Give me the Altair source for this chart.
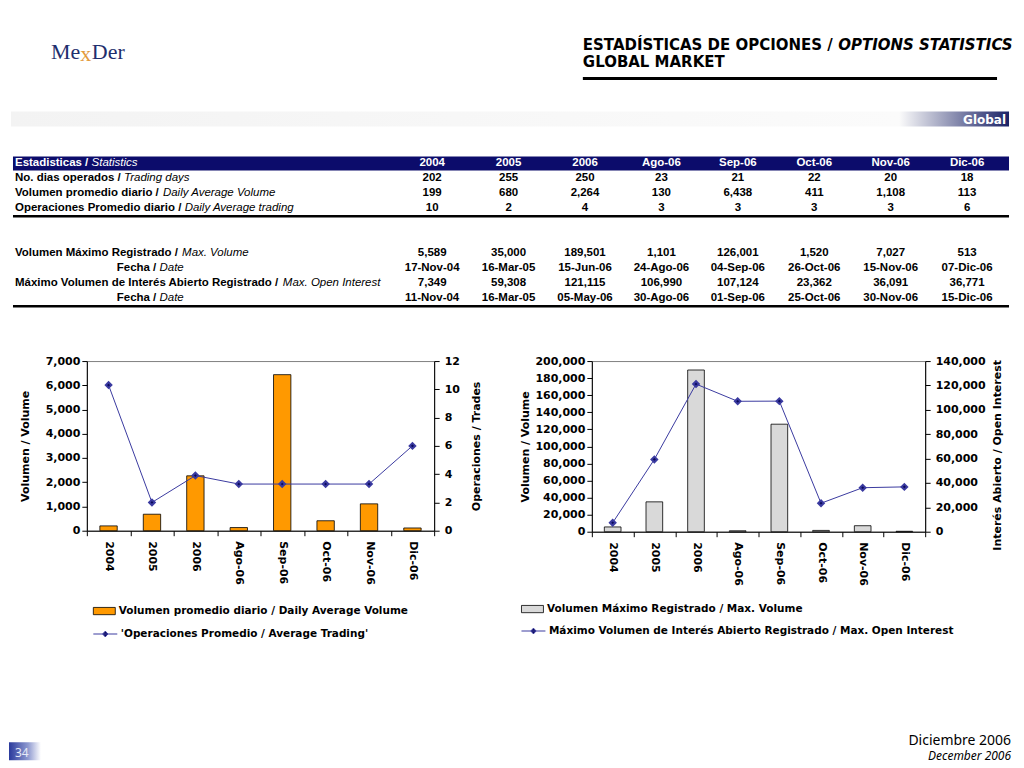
import altair as alt
import pandas as pd

# ---------------- data ----------------
categories = ["2004", "2005", "2006", "Ago-06", "Sep-06", "Oct-06", "Nov-06", "Dic-06"]
trading_days = [202, 255, 250, 23, 21, 22, 20, 18]
daily_avg_volume = [199, 680, 2264, 130, 6438, 411, 1108, 113]
daily_avg_trading = [10, 2, 4, 3, 3, 3, 3, 6]
avg_trading_plotted = [10.3, 2.0, 3.9, 3.3, 3.3, 3.3, 3.3, 6.0]
max_volume = [5589, 35000, 189501, 1101, 126001, 1520, 7027, 513]
max_volume_date = ["17-Nov-04", "16-Mar-05", "15-Jun-06", "24-Ago-06", "04-Sep-06",
                   "26-Oct-06", "15-Nov-06", "07-Dic-06"]
max_open_interest = [7349, 59308, 121115, 106990, 107124, 23362, 36091, 36771]
max_oi_date = ["11-Nov-04", "16-Mar-05", "05-May-06", "30-Ago-06", "01-Sep-06",
               "25-Oct-06", "30-Nov-06", "15-Dic-06"]

block1_labels = [("No. dias operados /", "Trading days"),
                 ("Volumen promedio diario /", "Daily Average Volume"),
                 ("Operaciones Promedio diario /", "Daily Average trading")]
block2_labels = [("Volumen Máximo Registrado /", "Max. Volume"),
                 ("Fecha /", "Date"),
                 ("Máximo Volumen de Interés Abierto Registrado /", "Max. Open Interest"),
                 ("Fecha /", "Date")]

leg_left_bar = "Volumen promedio diario / Daily Average Volume"
leg_left_line = "'Operaciones Promedio / Average Trading'"
leg_right_bar = "Volumen Máximo Registrado / Max. Volume"
leg_right_line = "Máximo Volumen de Interés Abierto Registrado / Max. Open Interest"

# ---------------- styles ----------------
NAVY_BAR = "#0c0c6b"
LINE_COL = "#3a3aa0"
DOT_COL = "#0a0a5a"
ORANGE = "#ff9900"
GRAY_BAR = "#d9d9d9"
AX_FONT = "DejaVu Sans"
TB_FONT = "Liberation Sans"
TB_SIZE = 11.5

# Arial/Liberation Sans Bold advance widths (1/1000 em) for placing the italic part
_W = {" ": 278, ".": 278, "/": 278, "A": 722, "D": 722, "E": 667, "F": 611, "I": 278,
      "M": 833, "N": 722, "O": 778, "P": 667, "R": 722, "V": 667, "a": 556, "b": 611,
      "c": 556, "d": 611, "e": 556, "g": 611, "h": 611, "i": 278, "l": 278, "m": 889,
      "n": 611, "o": 611, "p": 611, "r": 389, "s": 556, "t": 333, "u": 611, "x": 556,
      "á": 556, "é": 556}


def bold_width(s, size=TB_SIZE):
    return sum(_W.get(ch, 600) for ch in s) * size / 1000.0


one = pd.DataFrame({"k": [0]})


def txt(x, y, s, size=TB_SIZE, weight="bold", style="normal", color="black",
        align="left", font=TB_FONT):
    return alt.Chart(one).mark_text(
        text=s, align=align, baseline="middle", font=font, fontSize=size,
        fontWeight=weight, fontStyle=style, color=color
    ).encode(x=alt.value(x), y=alt.value(y))


def rect(x1, x2, y1, y2, fill):
    return alt.Chart(one).mark_rect(fill=fill).encode(
        x=alt.value(x1), x2=alt.value(x2), y=alt.value(y1), y2=alt.value(y2))


def hrule(x1, x2, y, w, color="black"):
    return alt.Chart(one).mark_rule(strokeWidth=w, color=color).encode(
        x=alt.value(x1), x2=alt.value(x2), y=alt.value(y))


# ---------------- panel A: header + table ----------------
# panel origin sits at page (86, 8), aligned with the left chart's plot origin
OX, OY = 86, 8
P = lambda x: x - OX
Q = lambda y: y - OY

layersA = []
# logo
layersA.append(txt(P(50), Q(50), "Me", size=22, weight="normal", color="#1f2f6e", font="Liberation Serif"))
layersA.append(txt(P(79.5), Q(52), "x", size=22, weight="normal", color="#e39a3c", font="Liberation Serif"))
layersA.append(txt(P(91), Q(50), "Der", size=22, weight="normal", color="#1f2f6e", font="Liberation Serif"))
# title
layersA.append(txt(P(583), Q(43), "ESTADÍSTICAS DE OPCIONES /", size=15, font=AX_FONT))
layersA.append(txt(P(839), Q(43), "OPTIONS STATISTICS", size=15, style="italic", font=AX_FONT))
layersA.append(txt(P(583), Q(60), "GLOBAL MARKET", size=15, font=AX_FONT))
layersA.append(hrule(P(583), P(998), Q(77), 3))
# Global band
band_grad = alt.LinearGradient(
    gradient="linear", x1=0, x2=1, y1=0, y2=0,
    stops=[alt.GradientStop(offset=0, color="#f3f3f3"),
           alt.GradientStop(offset=0.89, color="#fbfbfb"),
           alt.GradientStop(offset=1, color="#1a2266")])
layersA.append(rect(P(10), P(1010), Q(110), Q(125), band_grad))
layersA.append(txt(P(1007), Q(118), "Global", size=12, color="white", align="right", font=AX_FONT))
# table header bar
layersA.append(rect(P(12), P(1010), Q(155), Q(169), NAVY_BAR))
layersA.append(txt(P(14), Q(162), "Estadisticas /", color="white"))
layersA.append(txt(P(14) + bold_width("Estadisticas / "), Q(162), "Statistics", color="white",
                   weight="normal", style="italic"))

# row labels
b1_y = [177, 192, 207]
b1_x = [14, 14, 14]
for (bold, ital), yy, xx in zip(block1_labels, b1_y, b1_x):
    layersA.append(txt(P(xx), Q(yy), bold))
    layersA.append(txt(P(xx) + bold_width(bold + " "), Q(yy), ital, weight="normal", style="italic"))
b2_y = [252, 267, 282, 297]
b2_x = [14, 116, 14, 116]
for (bold, ital), yy, xx in zip(block2_labels, b2_y, b2_x):
    layersA.append(txt(P(xx), Q(yy), bold))
    layersA.append(txt(P(xx) + bold_width(bold + " "), Q(yy), ital, weight="normal", style="italic"))

layersA.append(hrule(P(12), P(1010), Q(215), 2.5))
layersA.append(hrule(P(12), P(1010), Q(305), 2.5))

xcol = alt.X("col:N", sort=categories,
             scale=alt.Scale(type="point", domain=categories, range=[P(432), P(968)], padding=0),
             axis=None)
fmt = lambda v: f"{v:,}"
hdr = pd.DataFrame({"col": categories, "v": categories})
layersA.append(alt.Chart(hdr).mark_text(
    align="center", baseline="middle", font=TB_FONT, fontSize=TB_SIZE, fontWeight="bold",
    color="white").encode(x=xcol, y=alt.value(Q(162)), text="v:N"))

b1_rows = [[fmt(v) for v in trading_days], [fmt(v) for v in daily_avg_volume],
           [fmt(v) for v in daily_avg_trading]]
cells1 = pd.DataFrame([{"col": c, "r": i, "v": v}
                       for i, row in enumerate(b1_rows) for c, v in zip(categories, row)])
layersA.append(alt.Chart(cells1).mark_text(
    align="center", baseline="middle", font=TB_FONT, fontSize=TB_SIZE, fontWeight="bold",
    color="black").encode(
    x=xcol,
    y=alt.Y("r:Q", scale=alt.Scale(domain=[0, 2], range=[Q(b1_y[0]), Q(b1_y[2])]), axis=None),
    text="v:N"))

b2_rows = [[fmt(v) for v in max_volume], max_volume_date,
           [fmt(v) for v in max_open_interest], max_oi_date]
cells2 = pd.DataFrame([{"col": c, "r": i, "v": v}
                       for i, row in enumerate(b2_rows) for c, v in zip(categories, row)])
layersA.append(alt.Chart(cells2).mark_text(
    align="center", baseline="middle", font=TB_FONT, fontSize=TB_SIZE, fontWeight="bold",
    color="black").encode(
    x=xcol,
    y=alt.Y("r:Q", scale=alt.Scale(domain=[0, 3], range=[Q(b2_y[0]), Q(b2_y[3])]), axis=None),
    text="v:N"))

panelA = alt.layer(*layersA).resolve_scale(y="independent").properties(width=930, height=344)

# ---------------- charts ----------------
BAR_SYM = "M-1,-0.33H1V0.33H-1Z"
LINE_SYM = "M-1,0H1M0,-0.24L0.22,0L0,0.24L-0.22,0Z"


def yaxis(orient, values, title, title_padding, label_padding=2, **kw):
    return alt.Axis(orient=orient, values=values, format=",.0f", title=title, grid=False,
                    labelFont=AX_FONT, labelFontSize=11, labelFontWeight="bold", labelColor="black",
                    titleFont=AX_FONT, titleFontSize=11, titleFontWeight="bold", titleColor="black",
                    tickColor="black", tickSize=5, domainColor="black",
                    labelPadding=label_padding, titlePadding=title_padding, **kw)


xaxis = alt.Axis(title=None, labelAngle=90, labelFont=AX_FONT, labelFontSize=11,
                 labelFontWeight="bold", labelColor="black", tickBand="extent", tickSize=5,
                 tickColor="black", domainColor="black", labelPadding=5)


def legend(lx, ly, sym, size, **kw):
    return alt.Legend(orient="none", legendX=lx, legendY=ly, title=None, symbolType=sym,
                      symbolSize=size, labelFont=AX_FONT, labelFontSize=10.5,
                      labelFontWeight="bold", labelColor="black", labelLimit=800, padding=0,
                      labelOffset=3, **kw)


def dual_chart(vol, line_vals, bar_color, bar_leg, line_leg, ldom, lvals, ltitle, lpad,
               rdom, rvals, rtitle, rpad, width, height, legx, legy1, legy2, rtitle_y=None):
    df = pd.DataFrame({"cat": categories, "vol": vol, "ln": line_vals,
                       "sb": [bar_leg] * len(categories), "sl": [line_leg] * len(categories)})
    x = alt.X("cat:N", sort=categories, scale=alt.Scale(paddingInner=0, paddingOuter=0), axis=xaxis)
    bars = alt.Chart(df).mark_bar(width=alt.RelativeBandSize(0.4), stroke="black",
                                  strokeWidth=0.8).encode(
        x=x,
        y=alt.Y("vol:Q", scale=alt.Scale(domain=ldom, nice=False),
                axis=yaxis("left", lvals, ltitle, lpad)),
        fill=alt.Fill("sb:N", scale=alt.Scale(range=[bar_color]),
                      legend=legend(legx, legy1, BAR_SYM, 484, symbolStrokeColor="black",
                                    symbolStrokeWidth=0.8, symbolOpacity=1)))
    rkw = dict(titleAngle=270, titleBaseline="top")
    if rtitle_y is not None:
        rkw["titleY"] = rtitle_y
    line = alt.Chart(df).mark_line(strokeWidth=1, point=alt.OverlayMarkDef(
        shape="diamond", filled=True, fill=DOT_COL, size=32)).encode(
        x=x,
        y=alt.Y("ln:Q", scale=alt.Scale(domain=rdom, nice=False),
                axis=yaxis("right", rvals, rtitle, rpad, label_padding=5, **rkw)),
        stroke=alt.Stroke("sl:N", scale=alt.Scale(range=[LINE_COL]),
                          legend=legend(legx, legy2, LINE_SYM, 576, symbolFillColor=DOT_COL,
                                        symbolStrokeWidth=1)))
    return alt.layer(bars, line).resolve_scale(y="independent").properties(
        width=width, height=height, view=alt.ViewBackground(stroke="#808080", strokeWidth=1))


left = dual_chart(daily_avg_volume, avg_trading_plotted, ORANGE, leg_left_bar, leg_left_line,
                  [0, 7000], list(range(0, 7001, 1000)), "Volumen / Volume", 15,
                  [0, 12], list(range(0, 13, 2)), "Operaciones / Trades", 11,
                  348, 170, 6, 239, 261)
right = dual_chart(max_volume, max_open_interest, GRAY_BAR, leg_right_bar, leg_right_line,
                   [0, 200000], list(range(0, 200001, 20000)), "Volumen / Volume", 4,
                   [0, 140000], list(range(0, 140001, 20000)), "Interés Abierto / Open Interest", 6,
                   334, 171, -71, 237, 258, rtitle_y=94)

row = alt.hconcat(left, right, spacing=37).resolve_scale(
    fill="independent", stroke="independent").resolve_legend(fill="independent", stroke="independent")

# ---------------- footer ----------------
FY = 641
F = lambda y: y - FY
box_grad = alt.LinearGradient(
    gradient="linear", x1=0, x2=1, y1=0, y2=0,
    stops=[alt.GradientStop(offset=0, color="#2a3a9c"),
           alt.GradientStop(offset=0.6, color="#8f9ad0"),
           alt.GradientStop(offset=1, color="#ffffff")])
footer = alt.layer(
    rect(P(8), P(40), F(742), F(760), box_grad),
    txt(P(14), F(753), "34", size=12, weight="normal", color="#e6e9f7", font="Noto Sans"),
    txt(P(1012), F(741), "Diciembre 2006", size=14, weight="normal", align="right", font="Noto Sans"),
    txt(P(1012), F(756), "December 2006", size=12, weight="normal", style="italic", align="right",
        font="Noto Sans"),
).properties(width=930, height=F(760))

chart = alt.vconcat(panelA, row, footer, spacing=0).properties(padding=0).configure(
    background="white").configure_view(stroke="transparent")

chart.save("out.html", embed_options={"renderer": "svg", "actions": False})
